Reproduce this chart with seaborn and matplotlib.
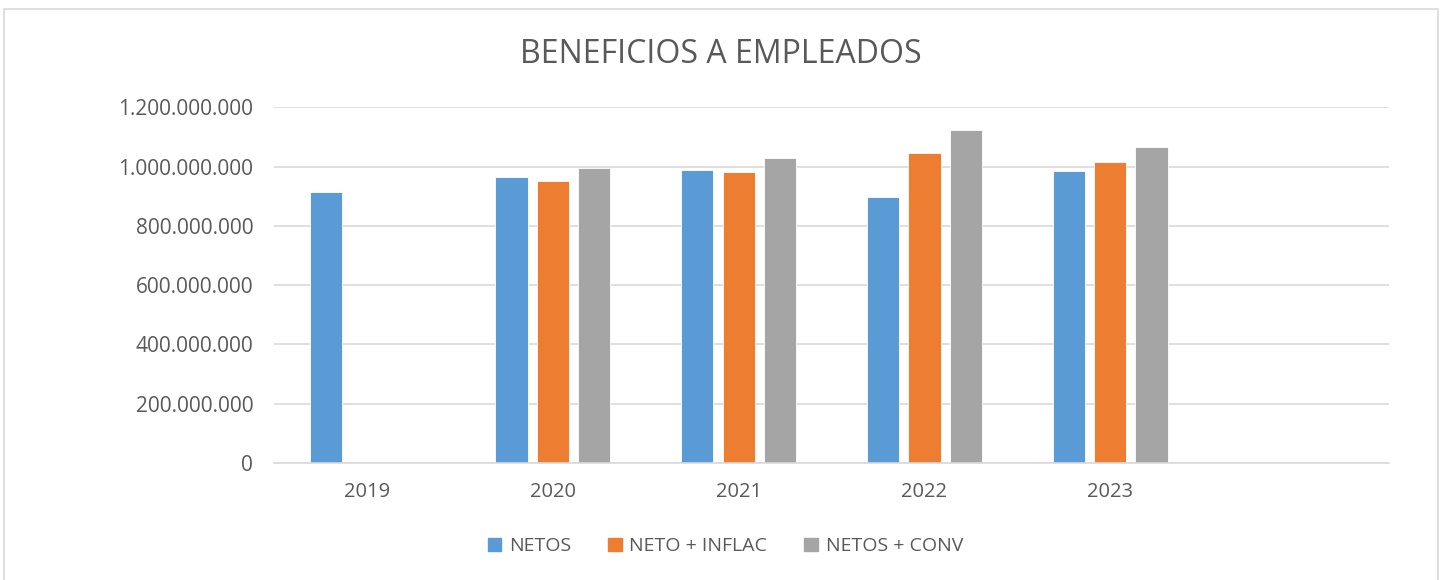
import pandas as pd
import numpy as np
import matplotlib.pyplot as plt
import seaborn as sns
from matplotlib.patches import Rectangle
from matplotlib.ticker import FuncFormatter

# datos
years = ['2019', '2020', '2021', '2022', '2023']
netos = [914.5e6, 966e6, 989e6, 897.6e6, 984.5e6]
neto_inflac = [np.nan, 950.7e6, 982e6, 1045e6, 1016e6]
netos_conv = [np.nan, 997e6, 1029e6, 1124e6, 1067.6e6]
series = ['NETOS', 'NETO + INFLAC', 'NETOS + CONV']
colors = ['#5B9BD5', '#ED7D31', '#A5A5A5']

df = pd.DataFrame({'year': years, series[0]: netos, series[1]: neto_inflac, series[2]: netos_conv})
df = df.melt(id_vars='year', var_name='serie', value_name='valor')

sns.set_style('white')
plt.rcParams['font.family'] = ['Open Sans', 'DejaVu Sans']

fig = plt.figure(figsize=(14.42, 5.8), dpi=100)
ax = fig.add_axes([0.190, 0.2022, 0.7733, 0.6125])

order = years + ['']
sns.barplot(data=df, x='year', y='valor', hue='serie', order=order, hue_order=series,
            palette=colors, width=0.666, gap=0.22, ax=ax, legend=False,
            edgecolor='white', linewidth=0.6, saturation=1)

ax.set_ylim(0, 1.2e9)
ax.set_xlim(-0.5, 5.5)
ax.set_yticks(np.arange(0, 1.2e9 + 1, 2e8))
ax.yaxis.set_major_formatter(FuncFormatter(lambda v, p: f'{int(round(v)):,}'.replace(',', '.')))
ax.grid(axis='y', color='#d9d9d9', linewidth=1.2)
ax.set_axisbelow(True)
for s in ['top', 'right', 'left']:
    ax.spines[s].set_visible(False)
ax.spines['bottom'].set_color('#d9d9d9')
ax.spines['bottom'].set_linewidth(1.2)
ax.tick_params(axis='both', length=0, labelcolor='#595959')
ax.tick_params(axis='y', labelsize=15, pad=15)
ax.tick_params(axis='x', labelsize=14.5, pad=14)
ax.set_xlabel('')
ax.set_ylabel('')

fig.text(0.5, 0.906, 'BENEFICIOS A EMPLEADOS', ha='center', va='center',
         fontsize=23, color='#595959')

handles = [Rectangle((0, 0), 1, 1, color=c) for c in colors]
fig.legend(handles, series, loc='center', bbox_to_anchor=(0.503, 0.058), ncol=3,
           frameon=False, fontsize=14, handlelength=0.7, handleheight=0.7,
           columnspacing=1.9, handletextpad=0.4, labelcolor='#595959')

fig.patches.append(Rectangle((0.003, -0.01), 0.994, 0.995, transform=fig.transFigure,
                             fill=False, edgecolor='#d9d9d9', linewidth=1.2))

fig.savefig('out.png', dpi=100)
